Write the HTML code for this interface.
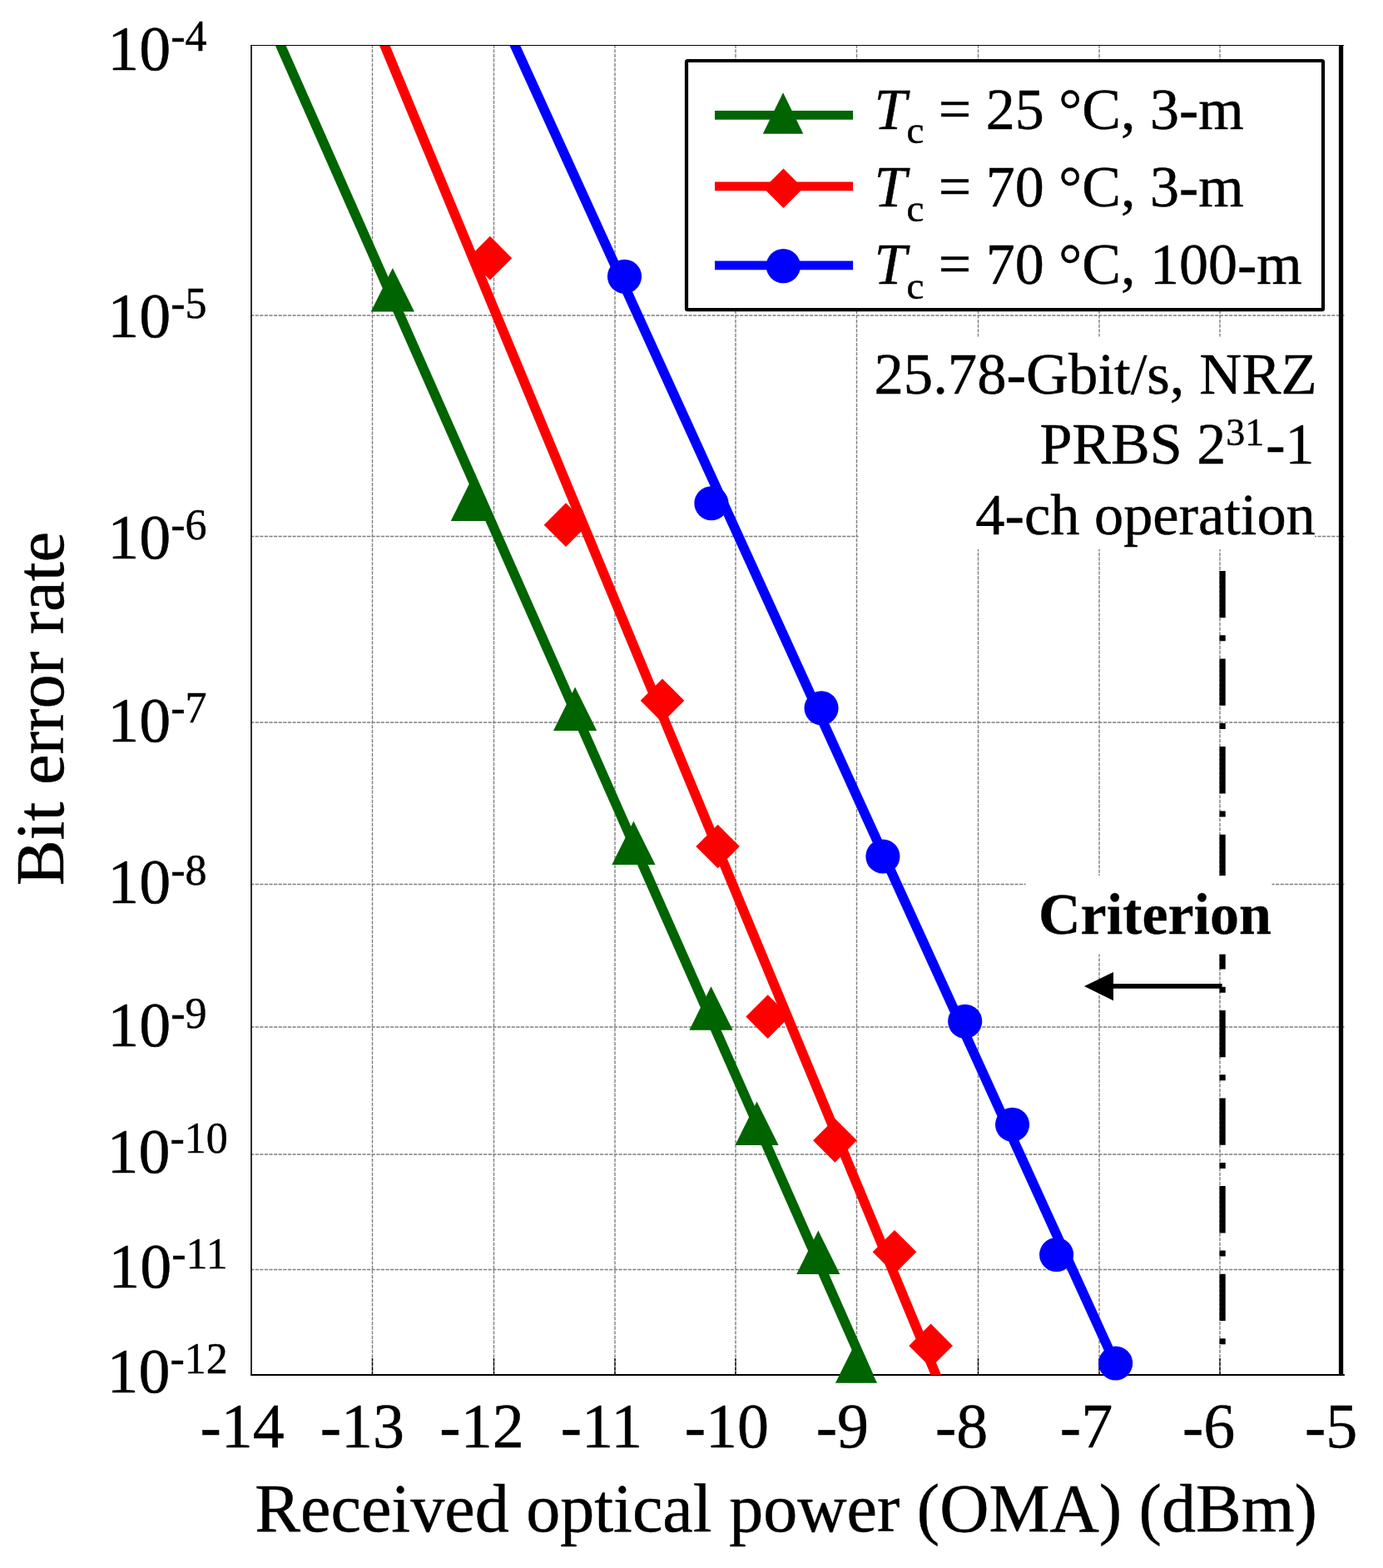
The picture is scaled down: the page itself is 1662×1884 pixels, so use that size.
<!DOCTYPE html>
<html lang="en">
<head>
<meta charset="utf-8">
<title>Bit error rate vs received optical power</title>
<style>
html,body{margin:0;padding:0;background:#fff;}
body{width:1662px;height:1884px;overflow:hidden;}
svg{display:block;}
text{font-family:"Liberation Serif","Times New Roman",Times,serif;fill:#000;stroke:#000;stroke-width:0.45px;stroke-linejoin:round;}
.tk{font-size:76px;}
.sup{font-size:52px;}
.ax{font-size:82px;}
.lg{font-size:70px;}
.nt{font-size:70px;}
</style>
</head>
<body>
<svg width="1662" height="1884" viewBox="0 0 1662 1884" role="img" aria-label="Bit error rate versus received optical power">
<rect x="0" y="0" width="1662" height="1884" fill="#ffffff"/>
<g stroke="#7f7f7f" stroke-width="1.4" stroke-dasharray="4.2 1.4" stroke-dashoffset="0.96" fill="none">
<line x1="447.5" y1="54.5" x2="447.5" y2="1652"/>
<line x1="593.5" y1="54.5" x2="593.5" y2="1652"/>
<line x1="739" y1="54.5" x2="739" y2="1652"/>
<line x1="884" y1="54.5" x2="884" y2="1652"/>
<line x1="1029.5" y1="54.5" x2="1029.5" y2="1652"/>
<line x1="1175.5" y1="54.5" x2="1175.5" y2="1652"/>
<line x1="1321" y1="54.5" x2="1321" y2="1652"/>
<line x1="1466" y1="54.5" x2="1466" y2="1652"/>
<line x1="302" y1="379" x2="1615.55" y2="379"/>
<line x1="302" y1="644.5" x2="1615.55" y2="644.5"/>
<line x1="302" y1="868" x2="1615.55" y2="868"/>
<line x1="302" y1="1062.5" x2="1615.55" y2="1062.5"/>
<line x1="302" y1="1234" x2="1615.55" y2="1234"/>
<line x1="302" y1="1387" x2="1615.55" y2="1387"/>
<line x1="302" y1="1525.5" x2="1615.55" y2="1525.5"/>
</g>
<g stroke="#000" stroke-width="1.4" stroke-dasharray="4.2 1.4" fill="none">
<line x1="447.5" y1="1652" x2="447.5" y2="1632"/>
<line x1="593.5" y1="1652" x2="593.5" y2="1632"/>
<line x1="739" y1="1652" x2="739" y2="1632"/>
<line x1="884" y1="1652" x2="884" y2="1632"/>
<line x1="1029.5" y1="1652" x2="1029.5" y2="1632"/>
<line x1="1175.5" y1="1652" x2="1175.5" y2="1632"/>
<line x1="1321" y1="1652" x2="1321" y2="1632"/>
<line x1="1466" y1="1652" x2="1466" y2="1632"/>
</g>
<rect x="1031.6" y="404.5" width="548.4" height="255.5" fill="#fff"/>
<line x1="1469.1" y1="685.9" x2="1469.1" y2="1620" stroke="#000" stroke-width="7.2" stroke-dasharray="56.3 21.15 7 21.15"/>
<rect x="1232.7" y="1052.1" width="295.8" height="94.5" fill="#fff"/>
<g stroke="#000" fill="none">
<line x1="301.1" y1="54.5" x2="1615.15" y2="54.5" stroke-width="1.2"/>
<line x1="302" y1="54.5" x2="302" y2="1652.8" stroke-width="1.7" stroke="#0a0a0a"/>
<line x1="301.2" y1="1652.05" x2="1615.85" y2="1652.05" stroke-width="2"/>
<line x1="1611.55" y1="53.9" x2="1611.55" y2="1652.8" stroke-width="5.3"/>
</g>
<defs><clipPath id="pc"><rect x="302" y="55" width="1309.55" height="1597.1"/></clipPath></defs>
<g fill="none" stroke-width="11.7" clip-path="url(#pc)">
<polyline stroke="#006400" points="323.88,24.5 1056.58,1682"/>
<polyline stroke="#ff0000" points="449.8,24.5 1137.23,1682"/>
<polyline stroke="#0000ff" points="605.06,24.5 1360.14,1682"/>
</g>
<g>
<polygon fill="#006400" points="471.85,321.98 497.95,374.62 445.75,374.62"/>
<polygon fill="#006400" points="567.9,573.32 594,625.98 541.8,625.98"/>
<polygon fill="#006400" points="691.1,825.38 717.2,878.03 665,878.03"/>
<polygon fill="#006400" points="761.4,986.47 787.5,1039.12 735.3,1039.12"/>
<polygon fill="#006400" points="854.5,1185.17 880.6,1237.83 828.4,1237.83"/>
<polygon fill="#006400" points="909.5,1323.47 935.6,1376.12 883.4,1376.12"/>
<polygon fill="#006400" points="983.3,1478.42 1009.4,1531.08 957.2,1531.08"/>
<polygon fill="#006400" points="1029,1611.4 1054.1,1661.8 1003.9,1661.8"/>
<polygon fill="#ff0000" points="588.9,283.85 615.25,310.2 588.9,336.55 562.55,310.2"/>
<polygon fill="#ff0000" points="680,604.35 706.35,630.7 680,657.05 653.65,630.7"/>
<polygon fill="#ff0000" points="796,815.45 822.35,841.8 796,868.15 769.65,841.8"/>
<polygon fill="#ff0000" points="862.6,990.65 888.95,1017 862.6,1043.35 836.25,1017"/>
<polygon fill="#ff0000" points="922.7,1195.25 949.05,1221.6 922.7,1247.95 896.35,1221.6"/>
<polygon fill="#ff0000" points="1003.4,1343.95 1029.75,1370.3 1003.4,1396.65 977.05,1370.3"/>
<polygon fill="#ff0000" points="1075,1477.95 1101.35,1504.3 1075,1530.65 1048.65,1504.3"/>
<polygon fill="#ff0000" points="1118.6,1590.58 1144.95,1616.93 1118.6,1643.28 1092.25,1616.93"/>
<circle fill="#0000ff" cx="750.5" cy="332.2" r="20.55"/>
<circle fill="#0000ff" cx="854.9" cy="604.7" r="20.55"/>
<circle fill="#0000ff" cx="987.05" cy="850.75" r="20.55"/>
<circle fill="#0000ff" cx="1060.9" cy="1029.05" r="20.55"/>
<circle fill="#0000ff" cx="1159.7" cy="1227.2" r="20.55"/>
<circle fill="#0000ff" cx="1216.55" cy="1351.25" r="20.55"/>
<circle fill="#0000ff" cx="1269.6" cy="1507.5" r="20.55"/>
<circle fill="#0000ff" cx="1340.63" cy="1637.98" r="20.55"/>
</g>
<rect x="825" y="73" width="765" height="299.2" rx="1.5" fill="#fff" stroke="#000" stroke-width="4.2"/>
<g stroke-width="10.8">
<line x1="859" y1="138.3" x2="1025.1" y2="138.3" stroke="#006400"/>
<line x1="859" y1="223.85" x2="1025.1" y2="223.85" stroke="#ff0000"/>
<line x1="859" y1="318.9" x2="1025.1" y2="318.9" stroke="#0000ff"/>
</g>
<polygon fill="#006400" points="941.05,111.3 965.3,160.8 916.8,160.8"/>
<polygon fill="#ff0000" points="941.5,202.5 965.2,226.2 941.5,249.9 917.8,226.2"/>
<circle fill="#0000ff" cx="941.3" cy="319.65" r="20.65"/>
<text class="lg" x="1050.5" y="154.6"><tspan font-style="italic">T</tspan><tspan dy="17.6" font-size="47px">c</tspan><tspan dy="-17.6"> = 25 °C, 3-m</tspan></text>
<text class="lg" x="1050.5" y="247.9"><tspan font-style="italic">T</tspan><tspan dy="17.6" font-size="47px">c</tspan><tspan dy="-17.6"> = 70 °C, 3-m</tspan></text>
<text class="lg" x="1050.5" y="340.9"><tspan font-style="italic">T</tspan><tspan dy="17.6" font-size="47px">c</tspan><tspan dy="-17.6"> = 70 °C, 100-m</tspan></text>
<text class="nt" x="1582.6" y="473.1" text-anchor="end" style="font-size:70.7px">25.78-Gbit/s, NRZ</text>
<text class="nt" x="1579.5" y="556.7" text-anchor="end">PRBS 2<tspan dy="-21.3" font-size="46px">31</tspan><tspan dy="21.3" dx="2">-1</tspan></text>
<text class="nt" x="1580.8" y="641.9" text-anchor="end" style="font-size:70.4px">4-ch operation</text>
<text class="nt" x="1388" y="1122.1" text-anchor="middle" font-weight="bold" style="stroke-width:0.3px">Criterion</text>
<line x1="1337" y1="1184.9" x2="1468.6" y2="1184.9" stroke="#000" stroke-width="5.6"/>
<polygon fill="#000" points="1302.9,1184.9 1338,1168 1338,1202.2"/>
<text class="tk" x="129.3" y="83.6">10<tspan class="sup" dy="-22.2">-4</tspan></text>
<text class="tk" x="129.3" y="404.6">10<tspan class="sup" dy="-22.2">-5</tspan></text>
<text class="tk" x="129.3" y="670.5">10<tspan class="sup" dy="-22.2">-6</tspan></text>
<text class="tk" x="129.3" y="890.5">10<tspan class="sup" dy="-22.2">-7</tspan></text>
<text class="tk" x="129.3" y="1084.7">10<tspan class="sup" dy="-22.2">-8</tspan></text>
<text class="tk" x="129.3" y="1256.9">10<tspan class="sup" dy="-22.2">-9</tspan></text>
<text class="tk" x="128.4" y="1408.8">10<tspan class="sup" dy="-23.7">-10</tspan></text>
<text class="tk" x="130.3" y="1546.9">10<tspan class="sup" dy="-22.8">-11</tspan></text>
<text class="tk" x="128.4" y="1672.9">10<tspan class="sup" dy="-23.2">-12</tspan></text>
<text class="tk" x="240.54" y="1739.1">-14</text>
<text class="tk" x="384.64" y="1739.1">-13</text>
<text class="tk" x="528.34" y="1739.1">-12</text>
<text class="tk" x="673.74" y="1739.1">-11</text>
<text class="tk" x="822.74" y="1739.1">-10</text>
<text class="tk" x="980.74" y="1739.1">-9</text>
<text class="tk" x="1124.04" y="1739.1">-8</text>
<text class="tk" x="1273.84" y="1739.1">-7</text>
<text class="tk" x="1421.04" y="1739.1">-6</text>
<text class="tk" x="1568.04" y="1739.1">-5</text>
<text class="ax" x="944.6" y="1840.3" text-anchor="middle" style="font-size:82.1px">Received optical power (OMA) (dBm)</text>
<text class="ax" transform="translate(75.6,851.6) rotate(-90)" text-anchor="middle" style="font-size:82.4px">Bit error rate</text>
</svg>
</body>
</html>
